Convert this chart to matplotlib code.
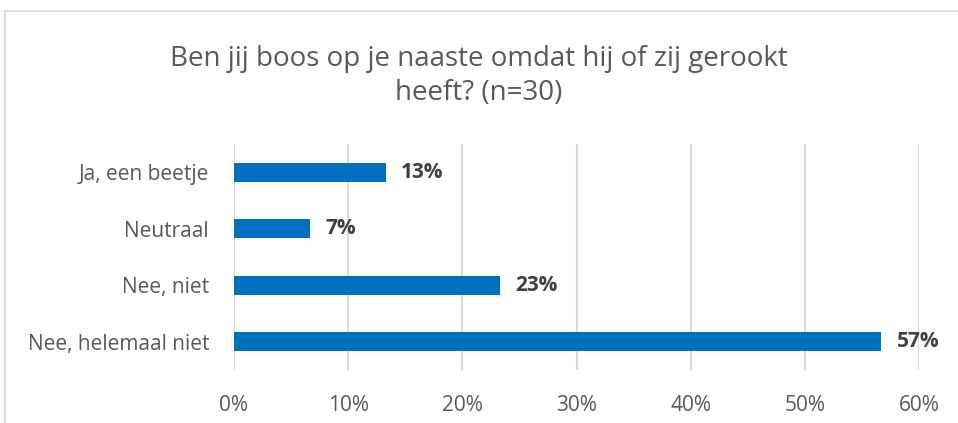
import matplotlib.pyplot as plt
from matplotlib.lines import Line2D

# data (n=30)
categories = ["Ja, een beetje", "Neutraal", "Nee, niet", "Nee, helemaal niet"]
percentages = [13.3, 6.7, 23.3, 56.7]
value_labels = ["13%", "7%", "23%", "57%"]
x_ticks = [0, 10, 20, 30, 40, 50, 60]
x_tick_labels = ["0%", "10%", "20%", "30%", "40%", "50%", "60%"]
title = "Ben jij boos op je naaste omdat hij of zij gerookt\nheeft? (n=30)"

bar_color = "#0070c0"
text_grey = "#595959"
label_grey = "#404040"
grid_grey = "#d9d9d9"

plt.rcParams['font.family'] = ['Open Sans', 'DejaVu Sans']

fig = plt.figure(figsize=(9.58, 4.23), dpi=100)
ax = fig.add_axes([234 / 958, 1 - 370 / 423, (919 - 234) / 958, (370 - 144) / 423])

y_pos = list(range(len(categories)))
ax.barh(y_pos, percentages, height=0.34, color=bar_color, zorder=3)
for y, v, lab in zip(y_pos, percentages, value_labels):
    ax.annotate(lab, (v, y), xytext=(11, 0), textcoords="offset points",
                ha="left", va="center", fontsize=15, fontweight="bold",
                color=label_grey)

ax.set_xlim(0, 60)
ax.set_ylim(3.5, -0.5)
ax.set_xticks(x_ticks)
ax.set_xticklabels(x_tick_labels)
ax.set_yticks(y_pos)
ax.set_yticklabels(categories)
ax.tick_params(axis="both", length=0, labelsize=15, colors=text_grey)
ax.tick_params(axis="x", pad=18)
ax.tick_params(axis="y", pad=18)
ax.grid(axis="x", color=grid_grey, linewidth=1.5, zorder=0)
for s in ax.spines.values():
    s.set_visible(False)

fig.text(0.5, 1 - 76 / 423, title, ha="center", va="center", fontsize=20,
         color=text_grey, linespacing=1.3)

# chart frame (partly cropped)
fig.add_artist(Line2D([5 / 958, 5 / 958], [0, 1 - 11 / 423], color=grid_grey, linewidth=1.2))
fig.add_artist(Line2D([5 / 958, 1], [1 - 11 / 423, 1 - 11 / 423], color=grid_grey, linewidth=1.2))

fig.savefig("out.png", dpi=100)
